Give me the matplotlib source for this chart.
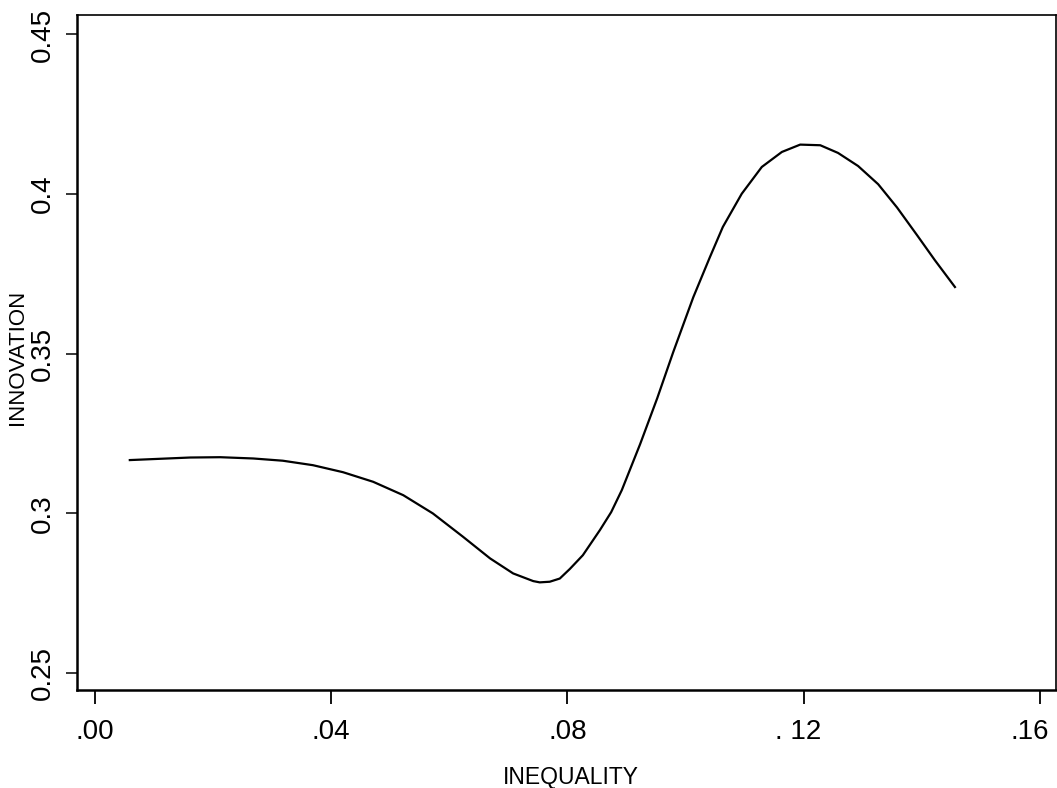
import matplotlib
matplotlib.use('Agg')
import matplotlib.pyplot as plt
from matplotlib.transforms import ScaledTranslation

plt.rcParams['font.family'] = ['Liberation Sans', 'DejaVu Sans']

# fitted curve
inequality = [0.0059, 0.0110, 0.0161, 0.0212, 0.0268, 0.0318, 0.0369, 0.0420,
              0.0471, 0.0522, 0.0572, 0.0623, 0.0669, 0.0708, 0.0742, 0.0753,
              0.0770, 0.0787, 0.0804, 0.0826, 0.0855, 0.0874, 0.0892, 0.0923,
              0.0952, 0.0979, 0.1013, 0.1041, 0.1063, 0.1095, 0.1129, 0.1163,
              0.1194, 0.1228, 0.1258, 0.1292, 0.1326, 0.1358, 0.1392, 0.1422,
              0.1456]
innovation = [0.3167, 0.3171, 0.3175, 0.3176, 0.3172, 0.3165, 0.3151, 0.3129,
              0.3099, 0.3057, 0.3000, 0.2927, 0.2859, 0.2812, 0.2788, 0.2784,
              0.2786, 0.2796, 0.2826, 0.2869, 0.2948, 0.3004, 0.3073, 0.3217,
              0.3361, 0.3505, 0.3677, 0.3802, 0.3897, 0.4001, 0.4085, 0.4132,
              0.4155, 0.4153, 0.4129, 0.4088, 0.4031, 0.3958, 0.3871, 0.3793,
              0.3709]

xticks = [0.00, 0.04, 0.08, 0.12, 0.16]
xlabels = ['.00', '.04', '.08', '. 12', '.16']
yticks = [0.25, 0.30, 0.35, 0.40, 0.45]
ylabels = ['0.25', '0.3', '0.35', '0.4', '0.45']

fig = plt.figure(figsize=(10.57, 7.88), dpi=100)
ax = fig.add_axes([0.0728, 0.1244, 0.9262, 0.8566])

ax.plot(inequality, innovation, color='black', lw=1.6)

ax.set_xlim(-0.00305, 0.1627)
ax.set_ylim(0.2447, 0.4561)

ax.set_xticks(xticks)
ax.set_xticklabels(xlabels)
ax.set_yticks(yticks)
ax.set_yticklabels(ylabels, rotation=90, va='center')

ax.tick_params(axis='x', direction='out', length=10, width=1.3, labelsize=20, pad=11)
ax.tick_params(axis='y', direction='out', length=8, width=1.1, labelsize=20, pad=7)

# the last two x labels sit a little left of their ticks
for lab, dx in zip(ax.get_xticklabels()[3:], [-6, -10]):
    lab.set_transform(lab.get_transform() + ScaledTranslation(dx / 100, 0, fig.dpi_scale_trans))

for side in ['left', 'bottom']:
    ax.spines[side].set_linewidth(1.8)
for side in ['top', 'right']:
    ax.spines[side].set_linewidth(1.2)

ax.set_xlabel('INEQUALITY', fontsize=16.5)
ax.set_ylabel('INNOVATION', fontsize=16)
ax.xaxis.set_label_coords(0.505, -0.112)
ax.yaxis.set_label_coords(-0.050, 0.492)

fig.savefig('out.png', dpi=100)
